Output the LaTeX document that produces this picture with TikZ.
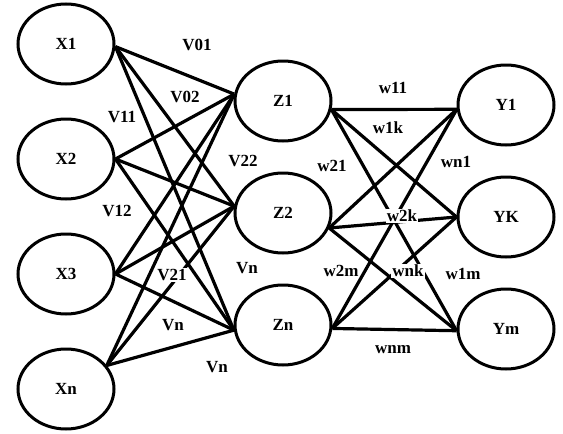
\documentclass[tikz,border=0pt]{standalone}
\usepackage{fontspec}
\setmainfont{Liberation Serif}
\usetikzlibrary{positioning,shapes.geometric}

\tikzset{
  neuron/.style={draw, ellipse, line width=3pt, minimum width=96pt,
    minimum height=80pt, inner sep=0pt, font=\fontsize{17}{20}\selectfont\bfseries},
  link/.style={line width=3.2pt},
  weight/.style={fill=white, inner sep=1pt, font=\fontsize{17}{20}\selectfont\bfseries}
}

\begin{document}
\begin{tikzpicture}
  \useasboundingbox (0,0) rectangle (563pt,-434pt);
  % input layer
  \node[neuron] (X1) at (66pt,-44pt) {X1};
  \node[neuron, below=32pt of X1] (X2) {X2};
  \node[neuron, below=32pt of X2] (X3) {X3};
  \node[neuron, below=32pt of X3] (Xn) {Xn};
  % hidden layer
  \node[neuron] (Z1) at (283pt,-101pt) {Z1};
  \node[neuron, below=29pt of Z1] (Z2) {Z2};
  \node[neuron, below=29pt of Z2] (Zn) {Zn};
  % output layer
  \node[neuron] (Y1) at (506pt,-105pt) {Y1};
  \node[neuron, below=29pt of Y1] (YK) {YK};
  \node[neuron, below=29pt of YK] (Ym) {Ym};

  \foreach \x/\a in {X1/357, X2/0, X3/0, Xn/30}
    \foreach \z/\b in {Z1/172, Z2/172, Zn/186}
      \draw[link] (\x.\a) -- (\z.\b);
  \foreach \z/\a in {Z1/350, Z2/342, Zn/356}
    \foreach \y/\b in {Y1/185, YK/180, Ym/182}
      \draw[link] (\z.\a) -- (\y.\b);

  % weights
  \node[weight] (v01) at (197pt,-45pt) {V01};
  \node[weight] (v02) at (185pt,-97pt) {V02};
  \node[weight] (v11) at (122pt,-117pt) {V11};
  \node[weight] (v22) at (243pt,-161pt) {V22};
  \node[weight] (v12) at (117pt,-211pt) {V12};
  \node[weight] (v21) at (172pt,-275pt) {V21};
  \node[weight] (vn1) at (247pt,-268pt) {Vn};
  \node[weight] (vn2) at (173pt,-325pt) {Vn};
  \node[weight] (vn3) at (217pt,-367pt) {Vn};
  \node[weight] (w11) at (393pt,-88pt) {w11};
  \node[weight] (w1k) at (388pt,-128pt) {w1k};
  \node[weight] (w21) at (332pt,-166pt) {w21};
  \node[weight] (wn1) at (456pt,-162pt) {wn1};
  \node[weight] (w2k) at (402pt,-216pt) {w2k};
  \node[weight] (w2m) at (341pt,-271pt) {w2m};
  \node[weight] (wnk) at (408pt,-271pt) {wnk};
  \node[weight] (w1m) at (463pt,-274pt) {w1m};
  \node[weight] (wnm) at (393pt,-350pt) {wnm};
\end{tikzpicture}
\end{document}
